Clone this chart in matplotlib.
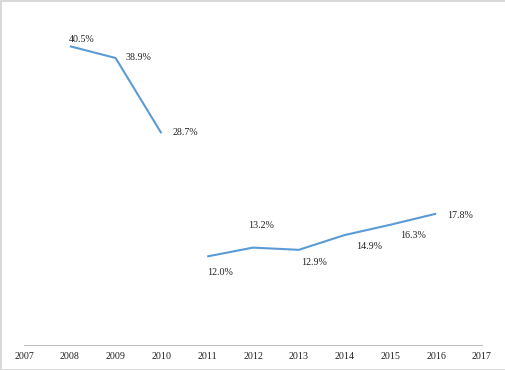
import numpy as np
from matplotlib import pyplot as plt

# data (two separate line segments)
years_a = [2008, 2009, 2010]
vals_a = [40.5, 38.9, 28.7]
years_b = [2011, 2012, 2013, 2014, 2015, 2016]
vals_b = [12.0, 13.2, 12.9, 14.9, 16.3, 17.8]
tick_years = list(range(2007, 2018))

# label offsets in pixels (dx, dy), picked to match the original placement
offs_a = [(12, 7), (23, 1), (24, 1)]
offs_b = [(13, -16), (8, 22), (15, -13), (24, -11), (23, -11), (24, -2)]

plt.rcParams["font.family"] = ["Liberation Serif", "DejaVu Serif"]
blue = "#5B9BD5"

fig = plt.figure(figsize=(5.06, 3.70), dpi=100)
fig.patch.set_edgecolor("#D9D9D9")
fig.patch.set_linewidth(2)
ax = fig.add_axes([24/506, 25/370, 458/506, 332/370])

ax.plot(years_a, vals_a, color=blue, lw=1.5, solid_capstyle="butt")
ax.plot(years_b, vals_b, color=blue, lw=1.5, solid_capstyle="butt")

for xs, ys, offs in [(years_a, vals_a, offs_a), (years_b, vals_b, offs_b)]:
    for x, y, (dx, dy) in zip(xs, ys, offs):
        ax.annotate(f"{y:.1f}%", (x, y), xytext=(dx, dy), textcoords="offset pixels",
                    ha="center", va="center", fontsize=7.2, color="#222222")

ax.set_xlim(2007, 2017)
ax.set_ylim(0, 45)
ax.set_xticks(tick_years)
ax.set_xticklabels([str(y) for y in tick_years])
ax.set_yticks([])
ax.tick_params(axis="x", length=0, pad=5, labelsize=7.2, labelcolor="#222222")
for s in ["left", "top", "right"]:
    ax.spines[s].set_visible(False)
ax.spines["bottom"].set_color("#BFBFBF")
ax.spines["bottom"].set_linewidth(0.75)
ax.patch.set_visible(False)

fig.savefig("out.png", dpi=100, edgecolor=fig.get_edgecolor())
